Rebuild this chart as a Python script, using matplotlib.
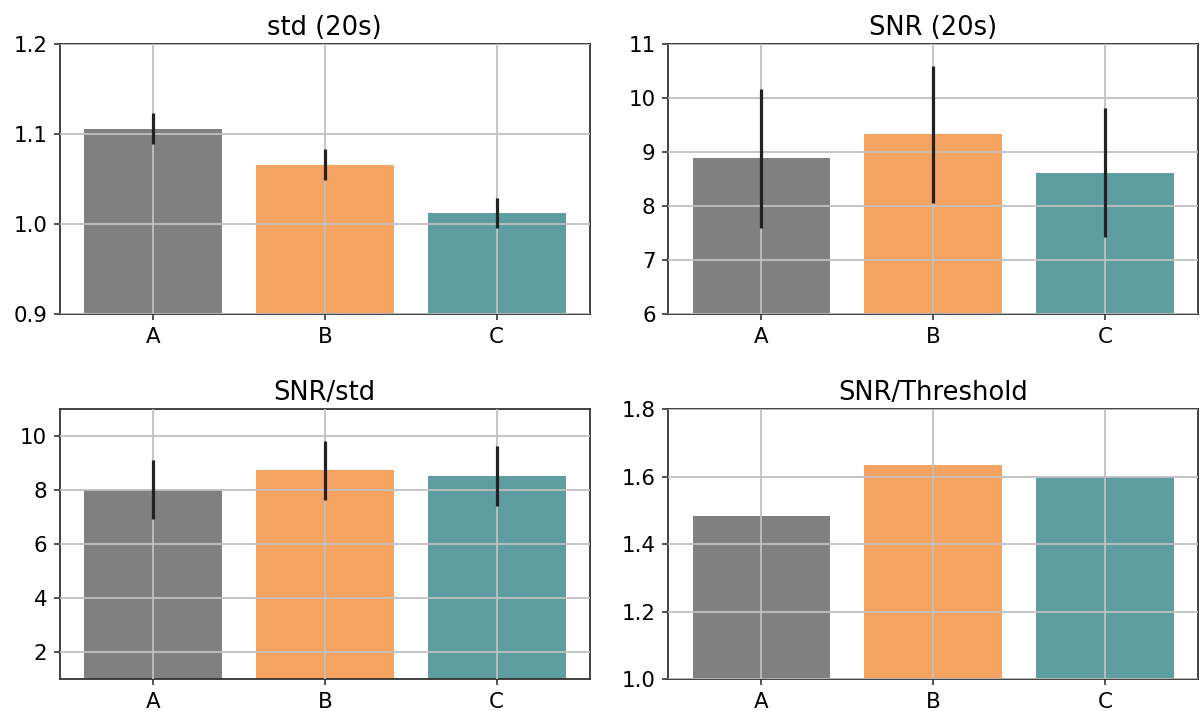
import matplotlib
matplotlib.use("Agg")
import matplotlib.pyplot as plt

categories = ["A", "B", "C"]
colors = ["#808080", "#f4a460", "#5f9ea0"]

titles = ["std (20s)", "SNR (20s)", "SNR/std", "SNR/Threshold"]

std_vals = [1.106, 1.066, 1.012]
std_err = [0.017, 0.017, 0.017]

snr_vals = [8.88, 9.33, 8.62]
snr_err = [1.28, 1.27, 1.20]

snr_std_vals = [8.01, 8.74, 8.53]
snr_std_err = [1.09, 1.09, 1.11]

snr_thr_vals = [1.482, 1.633, 1.598]

ylims = [(0.9, 1.2), (6, 11), (1, 11), (1.0, 1.8)]
yticks = [[0.9, 1.0, 1.1, 1.2], [6, 7, 8, 9, 10, 11], [2, 4, 6, 8, 10],
          [1.0, 1.2, 1.4, 1.6, 1.8]]

plt.rcParams["font.family"] = "DejaVu Sans"
plt.rcParams["font.size"] = 15

fig, axes = plt.subplots(2, 2, figsize=(12.01, 7.11), dpi=100)
fig.subplots_adjust(left=0.05, right=0.9975, top=0.938, bottom=0.045,
                    wspace=0.149, hspace=0.353)

data = [(std_vals, std_err), (snr_vals, snr_err),
        (snr_std_vals, snr_std_err), (snr_thr_vals, None)]

x = list(range(len(categories)))
for ax, (vals, err), title, yl, yt in zip(axes.flat, data, titles, ylims, yticks):
    ax.set_axisbelow(False)
    if err is not None:
        ax.bar(x, vals, width=0.8, color=colors, yerr=err,
               error_kw=dict(ecolor="#222222", elinewidth=2.3, capsize=0,
                             zorder=4))
    else:
        ax.bar(x, vals, width=0.8, color=colors)
    ax.set_xticks(x)
    ax.set_xticklabels(categories)
    ax.set_ylim(*yl)
    ax.set_yticks(yt)
    ax.set_title(title, fontsize=18.5, pad=6.5)
    ax.grid(True, color="#c0c0c0", linewidth=1.3, zorder=2.5)
    ax.tick_params(labelsize=15.4, length=4.2, width=1.2, pad=5,
                   color="#333333")
    for s in ax.spines.values():
        s.set_color("#333333")
        s.set_linewidth(1.3)

fig.savefig("out.png", dpi=100)
